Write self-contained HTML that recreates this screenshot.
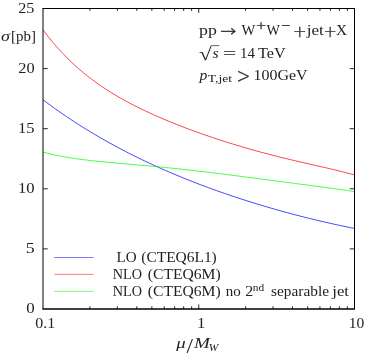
<!DOCTYPE html>
<html><head><meta charset="utf-8"><title>plot</title>
<style>html,body{margin:0;padding:0;background:#fff;}svg{display:block;font-family:"Liberation Serif",serif;fill:#222;}</style></head>
<body><svg width="366" height="354" viewBox="0 0 366 354">
<rect width="366" height="354" fill="#fff"/>
<g fill="none" stroke-width="0.72">
<path stroke="#0000ff" d="M43.0,99.84 L46.9,102.78 L50.9,105.66 L54.8,108.50 L58.8,111.28 L62.7,114.00 L66.7,116.68 L70.6,119.32 L74.5,121.90 L78.5,124.44 L82.4,126.93 L86.4,129.38 L90.3,131.78 L94.3,134.14 L98.2,136.46 L102.1,138.74 L106.1,140.98 L110.0,143.18 L114.0,145.34 L117.9,147.47 L121.9,149.55 L125.8,151.61 L129.7,153.63 L133.7,155.61 L137.6,157.56 L141.6,159.48 L145.5,161.36 L149.5,163.22 L153.4,165.04 L157.3,166.84 L161.3,168.60 L165.2,170.34 L169.2,172.05 L173.1,173.73 L177.1,175.39 L181.0,177.01 L184.9,178.62 L188.9,180.20 L192.8,181.75 L196.8,183.28 L200.7,184.79 L204.7,186.27 L208.6,187.73 L212.6,189.17 L216.5,190.58 L220.4,191.98 L224.4,193.35 L228.3,194.71 L232.3,196.04 L236.2,197.35 L240.2,198.65 L244.1,199.92 L248.0,201.18 L252.0,202.41 L255.9,203.63 L259.9,204.83 L263.8,206.01 L267.8,207.18 L271.7,208.32 L275.6,209.45 L279.6,210.56 L283.5,211.66 L287.5,212.73 L291.4,213.79 L295.4,214.83 L299.3,215.86 L303.2,216.87 L307.2,217.86 L311.1,218.83 L315.1,219.79 L319.0,220.73 L323.0,221.66 L326.9,222.56 L330.8,223.45 L334.8,224.33 L338.7,225.18 L342.7,226.02 L346.6,226.84 L350.6,227.65 L354.5,228.43"/>
<path stroke="#ff0000" d="M43.0,29.76 L46.9,34.97 L50.9,39.93 L54.8,44.64 L58.8,49.12 L62.7,53.39 L66.7,57.46 L70.6,61.33 L74.5,65.03 L78.5,68.56 L82.4,71.92 L86.4,75.15 L90.3,78.23 L94.3,81.18 L98.2,84.01 L102.1,86.73 L106.1,89.34 L110.0,91.86 L114.0,94.28 L117.9,96.61 L121.9,98.87 L125.8,101.05 L129.7,103.17 L133.7,105.22 L137.6,107.21 L141.6,109.14 L145.5,111.03 L149.5,112.86 L153.4,114.65 L157.3,116.40 L161.3,118.11 L165.2,119.78 L169.2,121.41 L173.1,123.02 L177.1,124.59 L181.0,126.13 L184.9,127.64 L188.9,129.13 L192.8,130.59 L196.8,132.02 L200.7,133.43 L204.7,134.82 L208.6,136.18 L212.6,137.52 L216.5,138.84 L220.4,140.13 L224.4,141.41 L228.3,142.66 L232.3,143.89 L236.2,145.09 L240.2,146.28 L244.1,147.44 L248.0,148.59 L252.0,149.71 L255.9,150.81 L259.9,151.89 L263.8,152.95 L267.8,153.99 L271.7,155.01 L275.6,156.01 L279.6,157.00 L283.5,157.97 L287.5,158.92 L291.4,159.87 L295.4,160.79 L299.3,161.71 L303.2,162.62 L307.2,163.52 L311.1,164.42 L315.1,165.32 L319.0,166.22 L323.0,167.12 L326.9,168.03 L330.8,168.95 L334.8,169.89 L338.7,170.85 L342.7,171.83 L346.6,172.84 L350.6,173.89 L354.5,174.98"/>
<path stroke="#00ff00" d="M43.0,152.12 L46.9,153.15 L50.9,154.10 L54.8,154.98 L58.8,155.79 L62.7,156.54 L66.7,157.24 L70.6,157.88 L74.5,158.48 L78.5,159.04 L82.4,159.56 L86.4,160.05 L90.3,160.52 L94.3,160.95 L98.2,161.37 L102.1,161.77 L106.1,162.15 L110.0,162.52 L114.0,162.88 L117.9,163.24 L121.9,163.59 L125.8,163.93 L129.7,164.28 L133.7,164.62 L137.6,164.97 L141.6,165.32 L145.5,165.67 L149.5,166.03 L153.4,166.39 L157.3,166.76 L161.3,167.14 L165.2,167.52 L169.2,167.92 L173.1,168.32 L177.1,168.73 L181.0,169.15 L184.9,169.57 L188.9,170.01 L192.8,170.45 L196.8,170.90 L200.7,171.36 L204.7,171.83 L208.6,172.30 L212.6,172.78 L216.5,173.27 L220.4,173.76 L224.4,174.26 L228.3,174.76 L232.3,175.26 L236.2,175.77 L240.2,176.28 L244.1,176.79 L248.0,177.30 L252.0,177.82 L255.9,178.34 L259.9,178.85 L263.8,179.37 L267.8,179.89 L271.7,180.40 L275.6,180.92 L279.6,181.43 L283.5,181.95 L287.5,182.46 L291.4,182.97 L295.4,183.49 L299.3,184.00 L303.2,184.51 L307.2,185.03 L311.1,185.54 L315.1,186.06 L319.0,186.58 L323.0,187.11 L326.9,187.65 L330.8,188.19 L334.8,188.74 L338.7,189.30 L342.7,189.88 L346.6,190.47 L350.6,191.08 L354.5,191.71"/>
</g>
<g fill="none" stroke-width="0.52">
<path stroke="#0000ff" d="M54.3,257.5H93.5"/>
<path stroke="#ff0000" d="M54.3,274.4H93.5"/>
<path stroke="#00ff00" d="M54.3,291.4H93.5"/>
</g>
<path fill="none" stroke="#000" stroke-width="0.85" d="M89.89,309.0 v-2.7 M89.89,8.5 v2.4 M117.31,309.0 v-2.7 M117.31,8.5 v2.4 M136.77,309.0 v-2.7 M136.77,8.5 v2.4 M151.86,309.0 v-2.7 M151.86,8.5 v2.4 M164.20,309.0 v-2.7 M164.20,8.5 v2.4 M174.62,309.0 v-2.7 M174.62,8.5 v2.4 M183.66,309.0 v-2.7 M183.66,8.5 v2.4 M191.62,309.0 v-2.7 M191.62,8.5 v2.4 M245.64,309.0 v-2.7 M245.64,8.5 v2.4 M273.06,309.0 v-2.7 M273.06,8.5 v2.4 M292.52,309.0 v-2.7 M292.52,8.5 v2.4 M307.61,309.0 v-2.7 M307.61,8.5 v2.4 M319.95,309.0 v-2.7 M319.95,8.5 v2.4 M330.37,309.0 v-2.7 M330.37,8.5 v2.4 M339.41,309.0 v-2.7 M339.41,8.5 v2.4 M347.37,309.0 v-2.7 M347.37,8.5 v2.4 M198.75,309.0 v-4.6 M198.75,8.5 v4.4 M43.0,248.9 h4.8 M354.5,248.9 h-4.8 M43.0,188.8 h4.8 M354.5,188.8 h-4.8 M43.0,128.7 h4.8 M354.5,128.7 h-4.8 M43.0,68.6 h4.8 M354.5,68.6 h-4.8"/>
<path fill="none" stroke="#000" stroke-width="1" d="M43.0,309.0 V8.5 M42.5,8.5 H355.0 M354.5,8.5 V309.0"/>
<path fill="none" stroke="#000" stroke-width="1.6" d="M42.5,309.0 H355.0"/>
<path fill="none" stroke="#222" stroke-width="0.7" d="M211.6,45.6H219.2"/>
<text x="18.25" y="12.5" font-size="15.3" textLength="16.22" lengthAdjust="spacingAndGlyphs">25</text>
<text x="18.25" y="72.7" font-size="15.3" textLength="16.39" lengthAdjust="spacingAndGlyphs">20</text>
<text x="18.00" y="132.8" font-size="15.3" textLength="16.59" lengthAdjust="spacingAndGlyphs">15</text>
<text x="18.00" y="192.9" font-size="15.3" textLength="16.59" lengthAdjust="spacingAndGlyphs">10</text>
<text x="25.75" y="253.1" font-size="15.3" textLength="8.93" lengthAdjust="spacingAndGlyphs">5</text>
<text x="26.25" y="313.3" font-size="15.3" textLength="8.46" lengthAdjust="spacingAndGlyphs">0</text>
<text x="35.25" y="327.6" font-size="15.3" textLength="19.93" lengthAdjust="spacingAndGlyphs">0.1</text>
<text x="197.00" y="327.5" font-size="15.3" textLength="8.35" lengthAdjust="spacingAndGlyphs">1</text>
<text x="348.75" y="327.6" font-size="15.3" textLength="15.54" lengthAdjust="spacingAndGlyphs">10</text>
<text x="1.00" y="41.0" font-size="15.3" font-style="italic" textLength="8.96" lengthAdjust="spacingAndGlyphs">σ</text>
<text x="11.00" y="41.0" font-size="15.3" textLength="24.96" lengthAdjust="spacingAndGlyphs">[pb]</text>
<text x="176.25" y="348.0" font-size="15.3" font-style="italic" textLength="9.43" lengthAdjust="spacingAndGlyphs">μ</text>
<text x="186.50" y="352.6" font-size="21" textLength="6.51" lengthAdjust="spacingAndGlyphs">/</text>
<text x="194.00" y="348.0" font-size="15.3" font-style="italic" textLength="15.91" lengthAdjust="spacingAndGlyphs">M</text>
<text x="208.75" y="351.0" font-size="10.5" font-style="italic" textLength="9.55" lengthAdjust="spacingAndGlyphs">W</text>
<text x="199.00" y="34.6" font-size="15.3" textLength="17.88" lengthAdjust="spacingAndGlyphs">pp</text>
<text x="220.00" y="36.3" font-size="15" font-family="DejaVu Sans Light, DejaVu Sans, sans-serif" font-weight="200" stroke="#222" stroke-width="0.3" textLength="16.35" lengthAdjust="spacingAndGlyphs">→</text>
<text x="241.50" y="34.6" font-size="15.3" textLength="13.81" lengthAdjust="spacingAndGlyphs">W</text>
<text x="255.50" y="29.4" font-size="10.5" font-family="DejaVu Sans Light, DejaVu Sans, sans-serif" font-weight="200" stroke="#222" stroke-width="0.3" textLength="11.19" lengthAdjust="spacingAndGlyphs">+</text>
<text x="266.50" y="34.6" font-size="15.3" textLength="13.46" lengthAdjust="spacingAndGlyphs">W</text>
<text x="280.75" y="29.4" font-size="10.5" font-family="DejaVu Sans Light, DejaVu Sans, sans-serif" font-weight="200" stroke="#222" stroke-width="0.3" textLength="10.18" lengthAdjust="spacingAndGlyphs">−</text>
<text x="292.75" y="37.2" font-size="16.7" font-family="DejaVu Sans Light, DejaVu Sans, sans-serif" font-weight="200" stroke="#222" stroke-width="0.3" textLength="13.98" lengthAdjust="spacingAndGlyphs">+</text>
<text x="306.75" y="34.6" font-size="15.3" textLength="17.01" lengthAdjust="spacingAndGlyphs">jet</text>
<text x="323.50" y="37.2" font-size="16.7" font-family="DejaVu Sans Light, DejaVu Sans, sans-serif" font-weight="200" stroke="#222" stroke-width="0.3" textLength="13.34" lengthAdjust="spacingAndGlyphs">+</text>
<text x="336.00" y="34.6" font-size="15.3" textLength="11.12" lengthAdjust="spacingAndGlyphs">X</text>
<text x="199.00" y="60.2" font-size="18.5" textLength="12.78" lengthAdjust="spacingAndGlyphs">√</text>
<text x="212.50" y="57.6" font-size="15.3" font-style="italic" textLength="6.14" lengthAdjust="spacingAndGlyphs">s</text>
<text x="222.25" y="59.1" font-size="17" font-family="DejaVu Sans Light, DejaVu Sans, sans-serif" font-weight="200" stroke="#222" stroke-width="0.3" textLength="14.61" lengthAdjust="spacingAndGlyphs">=</text>
<text x="240.00" y="57.6" font-size="15.3" textLength="14.86" lengthAdjust="spacingAndGlyphs">14</text>
<text x="258.00" y="57.6" font-size="15.3" textLength="27.70" lengthAdjust="spacingAndGlyphs">TeV</text>
<text x="199.50" y="79.7" font-size="15.3" font-style="italic" textLength="7.85" lengthAdjust="spacingAndGlyphs">p</text>
<text x="207.75" y="81.7" font-size="10.5" textLength="24.34" lengthAdjust="spacingAndGlyphs">T,jet</text>
<text x="236.50" y="83.3" font-size="21" font-family="DejaVu Sans Light, DejaVu Sans, sans-serif" font-weight="200" stroke="#222" stroke-width="0.3" textLength="13.95" lengthAdjust="spacingAndGlyphs">&gt;</text>
<text x="253.50" y="79.7" font-size="15.3" textLength="54.07" lengthAdjust="spacingAndGlyphs">100GeV</text>
<text x="116.50" y="261.8" font-size="14.3" textLength="20.11" lengthAdjust="spacingAndGlyphs">LO</text>
<text x="141.25" y="261.8" font-size="14.3" textLength="75.53" lengthAdjust="spacingAndGlyphs">(CTEQ6L1)</text>
<text x="112.75" y="278.5" font-size="14.3" textLength="29.24" lengthAdjust="spacingAndGlyphs">NLO</text>
<text x="147.75" y="278.5" font-size="14.3" textLength="72.93" lengthAdjust="spacingAndGlyphs">(CTEQ6M)</text>
<text x="112.75" y="295.7" font-size="14.3" textLength="29.24" lengthAdjust="spacingAndGlyphs">NLO</text>
<text x="147.75" y="295.7" font-size="14.3" textLength="72.93" lengthAdjust="spacingAndGlyphs">(CTEQ6M)</text>
<text x="225.75" y="295.7" font-size="14.3" textLength="14.99" lengthAdjust="spacingAndGlyphs">no</text>
<text x="245.25" y="295.7" font-size="14.3" textLength="8.01" lengthAdjust="spacingAndGlyphs">2</text>
<text x="252.75" y="291.2" font-size="10" textLength="11.40" lengthAdjust="spacingAndGlyphs">nd</text>
<text x="271.00" y="295.7" font-size="14.3" textLength="58.00" lengthAdjust="spacingAndGlyphs">separable</text>
<text x="332.25" y="295.7" font-size="14.3" textLength="16.73" lengthAdjust="spacingAndGlyphs">jet</text>
</svg></body></html>
